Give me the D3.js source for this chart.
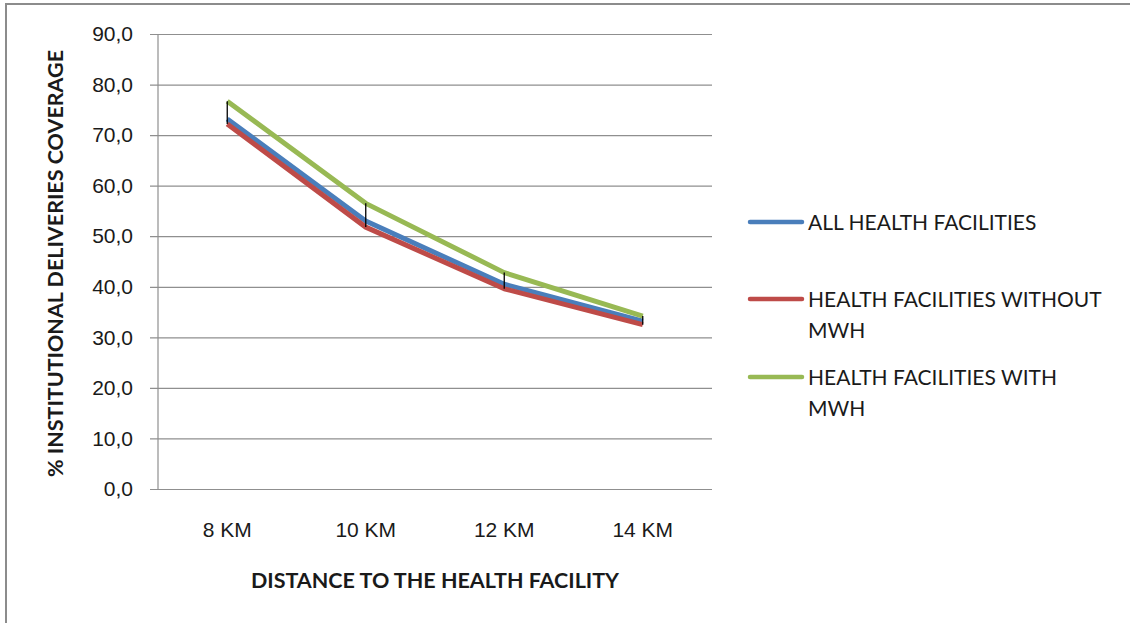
<!DOCTYPE html>
<html>
<head>
<meta charset="utf-8">
<script src="https://cdn.jsdelivr.net/npm/d3@7"></script>
<style>
  html, body { margin: 0; padding: 0; background: #fff; }
  svg { display: block; font-family: Lato, "Open Sans", sans-serif; }
</style>
</head>
<body>
<svg id="chart" width="1130" height="623"></svg>
<script>
// Distance categories and coverage (%) by facility group
const categories = ["8 KM", "10 KM", "12 KM", "14 KM"];
const allFacilities = [73.2, 53.0, 40.5, 33.2];
const withoutMWH = [72.2, 51.8, 39.6, 32.5];
const withMWH = [76.7, 56.5, 42.8, 34.2];
const yTicks = [0, 10, 20, 30, 40, 50, 60, 70, 80, 90];

const series = [
  { name: ["ALL HEALTH FACILITIES"], values: allFacilities, color: "#4a7ebb" },
  { name: ["HEALTH FACILITIES WITHOUT", "MWH"], values: withoutMWH, color: "#be4b48" },
  { name: ["HEALTH FACILITIES WITH", "MWH"], values: withMWH, color: "#98b954" }
];

const svg = d3.select("#chart");

// Outer frame (top and left edges)
svg.append("path")
  .attr("d", "M6,623 V4 H1130")
  .attr("fill", "none")
  .attr("stroke", "#8c8c8c")
  .attr("stroke-width", 2);

const plot = { left: 158, right: 712, top: 34, bottom: 489 };

const x = d3.scaleBand().domain(categories).range([plot.left, plot.right]);
const y = d3.scaleLinear().domain([0, 90]).range([plot.bottom, plot.top]);
const cx = c => x(c) + x.bandwidth() / 2;

// Horizontal gridlines with ticks on the value axis
const yAxis = d3.axisLeft(y)
  .tickValues(yTicks)
  .tickSize(-(plot.right - plot.left))
  .tickPadding(25)
  .tickFormat(d => d3.format(".1f")(d).replace(".", ","));

const gy = svg.append("g")
  .attr("transform", `translate(${plot.left},0)`)
  .call(yAxis);
gy.select(".domain").remove();
gy.selectAll(".tick line")
  .attr("x1", -8)
  .attr("stroke", "#8f8f8f")
  .attr("stroke-width", 1.2);
gy.selectAll(".tick text")
  .attr("font-size", 21)
  .attr("fill", "#1a1a1a");

// Vertical value axis line
svg.append("line")
  .attr("x1", plot.left).attr("x2", plot.left)
  .attr("y1", plot.top).attr("y2", plot.bottom)
  .attr("stroke", "#8f8f8f")
  .attr("stroke-width", 1.2);

// Category axis labels
const gx = svg.append("g")
  .attr("transform", `translate(0,${plot.bottom})`)
  .call(d3.axisBottom(x).tickSize(0).tickPadding(33));
gx.select(".domain").remove();
gx.selectAll(".tick text")
  .attr("font-size", 21)
  .attr("fill", "#1a1a1a");

// Series lines
const line = d3.line()
  .x((d, i) => cx(categories[i]))
  .y(d => y(d));

series.forEach(s => {
  svg.append("path")
    .datum(s.values)
    .attr("d", line)
    .attr("fill", "none")
    .attr("stroke", s.color)
    .attr("stroke-width", 5)
    .attr("stroke-linejoin", "round");
});

// High-low lines between the highest and lowest series at each category
svg.append("g")
  .selectAll("line")
  .data(categories)
  .join("line")
  .attr("x1", c => cx(c)).attr("x2", c => cx(c))
  .attr("y1", (c, i) => y(d3.max(series, s => s.values[i])))
  .attr("y2", (c, i) => y(d3.min(series, s => s.values[i])))
  .attr("stroke", "#000")
  .attr("stroke-width", 1.3);

// Axis titles
svg.append("text")
  .attr("transform", `translate(63,${(plot.top + plot.bottom) / 2 + 2}) rotate(-90)`)
  .attr("text-anchor", "middle")
  .attr("font-size", 21.5)
  .attr("font-weight", "bold")
  .attr("fill", "#1a1a1a")
  .text("% INSTITUTIONAL DELIVERIES COVERAGE");

svg.append("text")
  .attr("x", 435)
  .attr("y", 588)
  .attr("text-anchor", "middle")
  .attr("font-size", 21.5)
  .attr("font-weight", "bold")
  .attr("fill", "#1a1a1a")
  .text("DISTANCE TO THE HEALTH FACILITY");

// Legend
const legendY = [222, 299, 377];
const legend = svg.append("g")
  .selectAll("g")
  .data(series)
  .join("g")
  .attr("transform", (d, i) => `translate(750,${legendY[i]})`);

legend.append("line")
  .attr("x1", 0).attr("x2", 52)
  .attr("stroke", d => d.color)
  .attr("stroke-width", 4.5)
  .attr("stroke-linecap", "round");

legend.append("text")
  .attr("font-size", 21)
  .attr("fill", "#1a1a1a")
  .selectAll("tspan")
  .data(d => d.name)
  .join("tspan")
  .attr("x", 58)
  .attr("y", (d, i) => i * 31)
  .attr("dy", "0.36em")
  .text(d => d);
</script>
</body>
</html>
